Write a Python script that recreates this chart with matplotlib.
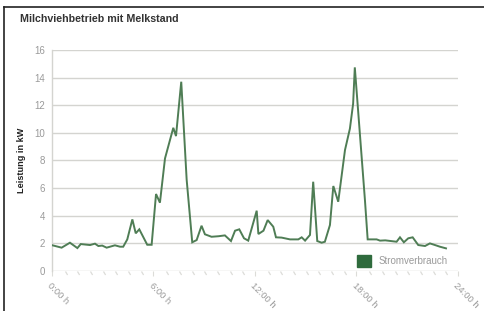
import matplotlib
matplotlib.use("Agg")
import matplotlib.pyplot as plt
from matplotlib.patches import Patch
from matplotlib.lines import Line2D
from matplotlib.path import Path

# ----- Data -----
hours = [0.0, 0.57, 1.06, 1.5, 1.7, 2.25, 2.54, 2.74, 2.97, 3.23, 3.72, 4.02, 4.21,
         4.45, 4.75, 4.95, 5.16, 5.63, 5.89, 6.15, 6.38, 6.68, 7.17, 7.33, 7.64,
         7.96, 8.29, 8.55, 8.84, 9.04, 9.43, 9.85, 10.22, 10.58, 10.82, 11.07, 11.35,
         11.6, 12.1, 12.2, 12.5, 12.75, 13.08, 13.24, 13.57, 14.07, 14.56, 14.76,
         14.96, 15.25, 15.44, 15.68, 15.94, 16.13, 16.43, 16.63, 16.92, 17.32,
         17.61, 17.8, 17.9, 18.5, 18.66, 19.19, 19.39, 19.7, 20.37, 20.57, 20.8,
         21.06, 21.32, 21.65, 22.05, 22.34, 22.64, 22.93, 23.29]
power = [1.85, 1.67, 2.03, 1.64, 1.93, 1.86, 1.96, 1.79, 1.82, 1.67, 1.84, 1.74, 1.74,
         2.27, 3.72, 2.71, 3.0, 1.88, 1.88, 5.56, 4.93, 8.14, 10.36, 9.76, 13.7,
         6.6, 2.06, 2.22, 3.26, 2.64, 2.46, 2.5, 2.56, 2.15, 2.9, 3.0, 2.35,
         2.18, 4.35, 2.66, 2.9, 3.67, 3.19, 2.42, 2.4, 2.27, 2.27, 2.42,
         2.18, 2.59, 6.45, 2.15, 2.03, 2.1, 3.31, 6.14, 5.0, 8.75,
         10.3, 12.1, 14.74, 5.1, 2.27, 2.27, 2.18, 2.2, 2.1, 2.42, 2.06,
         2.35, 2.42, 1.86, 1.79, 1.98, 1.86, 1.74, 1.62]
major_ticks = [0, 6, 12, 18, 24]
major_labels = ["0:00 h", "6:00 h", "12:00 h", "18:00 h", "24:00 h"]
y_ticks = [0, 2, 4, 6, 8, 10, 12, 14, 16]

TITLE = "Milchviehbetrieb mit Melkstand"
YLABEL = "Leistung in kW"
SERIES = "Stromverbrauch"
# -----------------------------------------

LINE_COLOR = "#4f7d55"
LEGEND_COLOR = "#2f6b3d"
GRID_COLOR = "#d4d4d0"
TICK_COLOR = "#9a9a9a"

plt.rcParams['font.family'] = ['Liberation Sans', 'DejaVu Sans']

W, H = 485, 311
fig = plt.figure(figsize=(W / 100, H / 100), dpi=100)
ax = fig.add_axes([52 / W, 1 - 270.7 / H, (458 - 52) / W, (270.7 - 50) / H])

ax.plot(hours, power, color=LINE_COLOR, lw=1.4, solid_joinstyle="miter", zorder=3)

ax.set_xlim(0, 24)
ax.set_ylim(0, 16)
ax.set_yticks(y_ticks)
ax.set_yticklabels([str(v) for v in y_ticks], color=TICK_COLOR, fontsize=7)
ax.yaxis.grid(True, color=GRID_COLOR, lw=1.0)
ax.set_axisbelow(True)
ax.tick_params(axis="y", length=0, pad=5)

for s in ["top", "right", "bottom"]:
    ax.spines[s].set_visible(False)
ax.spines["left"].set_color(GRID_COLOR)
ax.spines["left"].set_linewidth(1.0)

# slanted small ticks under the x axis
ax.set_xticks(major_ticks)
ax.set_xticklabels(major_labels, rotation=-45, ha="left", va="top",
                   rotation_mode="anchor", color=TICK_COLOR, fontsize=6.8)
ax.set_xticks([i * 0.75 for i in range(33)], minor=True)
slant = Path([(0, 0), (0.6, -1)], [Path.MOVETO, Path.LINETO])
for t in ax.xaxis.get_major_ticks() + ax.xaxis.get_minor_ticks():
    t.tick1line.set_marker(slant)
    t.tick1line.set_markersize(5)
    t.tick1line.set_markeredgecolor("#dcdcd8")
    t.tick1line.set_markeredgewidth(0.9)
ax.tick_params(axis="x", which="major", pad=4)
for lbl in ax.get_xticklabels():
    lbl.set_x(lbl.get_position()[0])

ax.set_ylabel(YLABEL, fontsize=6.6, fontweight="bold", color="#222222", labelpad=6)

fig.text(20 / W, 1 - 19 / H, TITLE, fontsize=7.7, fontweight="bold", color="#333333",
         va="center", ha="left")

leg = ax.legend(handles=[Patch(color=LEGEND_COLOR, label=SERIES)],
                loc="center left", bbox_to_anchor=(357 / W, 1 - 261 / H),
                bbox_transform=fig.transFigure, frameon=False, fontsize=7,
                handlelength=1.45, handleheight=1.45, handletextpad=0.8,
                borderpad=0, borderaxespad=0)
for txt in leg.get_texts():
    txt.set_color(TICK_COLOR)

# frame lines of the screenshot
fig.add_artist(Line2D([4 / W, 1], [1 - 7 / H, 1 - 7 / H], color="#222222", lw=1.2,
                      transform=fig.transFigure))
fig.add_artist(Line2D([4 / W, 4 / W], [0, 1 - 7 / H], color="#222222", lw=1.2,
                      transform=fig.transFigure))

fig.savefig("out.png", dpi=100)
